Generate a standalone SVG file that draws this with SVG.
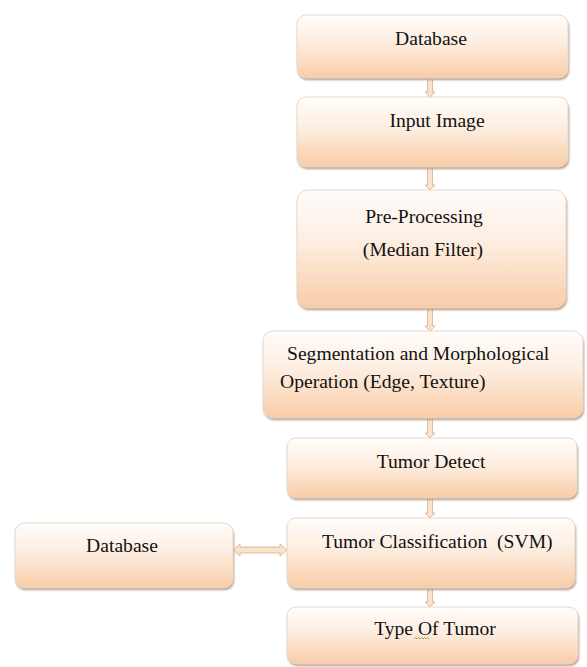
<svg xmlns="http://www.w3.org/2000/svg" width="587" height="667" viewBox="0 0 587 667">
<style>
.box{fill:url(#g);stroke:#e6d8cc;stroke-width:1}
.sh{fill:#b09886;filter:url(#b)}
.t{font-family:"Liberation Serif","Times New Roman",serif;font-size:19.6px;fill:#111111}
.c{text-anchor:middle}
.arr{fill:#fbe2cd;stroke:#d8ae8c;stroke-width:0.8}
</style>
<defs>
<linearGradient id="g" x1="0" y1="0" x2="0" y2="1">
<stop offset="0" stop-color="#fffdfb"/>
<stop offset="0.45" stop-color="#fdede0"/>
<stop offset="1" stop-color="#f9cca6"/>
</linearGradient>
<filter id="b" x="-5%" y="-10%" width="110%" height="130%"><feGaussianBlur stdDeviation="1.3"/></filter>
</defs>
<rect width="587" height="667" fill="#ffffff"/>
<g id="connectors">
<polygon class="arr" points="427.5,78 432.5,78 432.5,92 435,92 430,97 425,92 427.5,92"/>
<polygon class="arr" points="427.5,167 432.5,167 432.5,185 435,185 430,190 425,185 427.5,185"/>
<polygon class="arr" points="427.5,308 432.5,308 432.5,326 435,326 430,331 425,326 427.5,326"/>
<polygon class="arr" points="427.5,418 432.5,418 432.5,433 435,433 430,438 425,433 427.5,433"/>
<polygon class="arr" points="427.5,498 432.5,498 432.5,513 435,513 430,518 425,513 427.5,513"/>
<polygon class="arr" points="427.5,588 432.5,588 432.5,602 435,602 430,607 425,602 427.5,602"/>
<polygon class="arr" points="233,550 240,544 240,547 280,547 280,544 287,550 280,556 280,553 240,553 240,556"/>
</g>
<g id="database-top">
<rect class="sh" x="298" y="18" width="271" height="62" rx="9"/>
<rect class="box" x="297" y="15" width="271" height="63" rx="9"/>
<text class="t c" x="431" y="45">Database</text>
</g>
<g id="input-image">
<rect class="sh" x="298" y="100" width="271" height="69" rx="9"/>
<rect class="box" x="297" y="97" width="271" height="70" rx="9"/>
<text class="t c" x="437" y="127">Input Image</text>
</g>
<g id="pre-processing">
<rect class="sh" x="298" y="193" width="269" height="117" rx="11"/>
<rect class="box" x="297" y="190" width="269" height="118" rx="11"/>
<text class="t c" x="424" y="223">Pre-Processing</text>
<text class="t c" x="423" y="256">(Median Filter)</text>
</g>
<g id="segmentation">
<rect class="sh" x="264" y="334" width="320" height="86" rx="10"/>
<rect class="box" x="263" y="331" width="320" height="87" rx="10"/>
<text class="t" x="287" y="360">Segmentation and Morphological</text>
<text class="t" x="280" y="388">Operation (Edge, Texture)</text>
</g>
<g id="tumor-detect">
<rect class="sh" x="288" y="441" width="290" height="59" rx="9"/>
<rect class="box" x="287" y="438" width="290" height="60" rx="9"/>
<text class="t c" x="431" y="468">Tumor Detect</text>
</g>
<g id="tumor-classification">
<rect class="sh" x="288" y="521" width="288" height="69" rx="9"/>
<rect class="box" x="287" y="518" width="288" height="70" rx="9"/>
<text class="t" x="322" y="548" xml:space="preserve">Tumor Classification  (SVM)</text>
</g>
<g id="type-of-tumor">
<rect class="sh" x="288" y="610" width="291" height="56" rx="9"/>
<rect class="box" x="287" y="607" width="291" height="57" rx="9"/>
<text class="t c" x="435" y="635">Type Of Tumor</text>
<path d="M414,639 l1.5,-1.5 l1.5,1.5 l1.5,-1.5 l1.5,1.5 l1.5,-1.5 l1.5,1.5 l1.5,-1.5 l1.5,1.5 l1.5,-1.5 l1.5,1.5" fill="none" stroke="#6a9a3a" stroke-width="0.7"/>
</g>
<g id="database-left">
<rect class="sh" x="16" y="526" width="218" height="64" rx="9"/>
<rect class="box" x="15" y="523" width="218" height="65" rx="9"/>
<text class="t c" x="122" y="552">Database</text>
</g>
</svg>
